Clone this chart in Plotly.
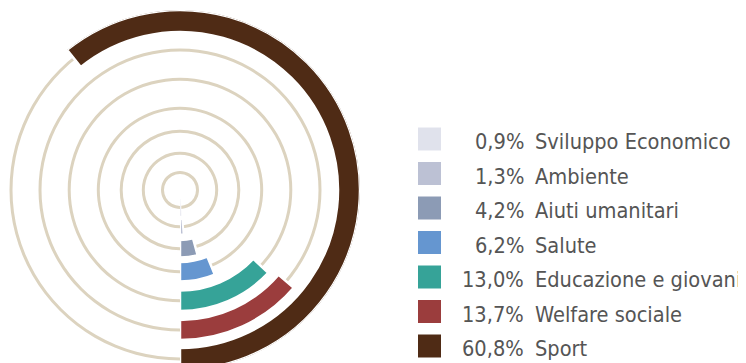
import plotly.graph_objects as go

# dati
categories = ["Sviluppo Economico", "Ambiente", "Aiuti umanitari", "Salute",
              "Educazione e giovani", "Welfare sociale", "Sport"]
shares = [0.9, 1.3, 4.2, 6.2, 13.0, 13.7, 60.8]
colors = ["#e0e2ec", "#bcc1d4", "#8c9bb5", "#6596d0", "#36a398", "#9b3d3d", "#4f2b15"]

# stile degli anelli (raggio in px, spessore barra)
ring_radius = [17.5, 36.7, 58.8, 81.7, 110.8, 140, 169]
bar_thick = [17, 15.5, 17.5, 19.5, 20.5, 20, 22]
outline_w = [0.6, 2, 2.5, 2.5, 2.5, 2.5, 2.5]
track_color = "#dcd3bf"
text_color = "#555555"
FONT = "DejaVu Sans Condensed"
FSIZE = 21.6

# la pagina ha 8px di margine sul body; l'altezza eccede la finestra
# perche' la barra Sport esce in basso
W, H = 738, 372
CX, CY = 172, 182   # centro in px della figura

fig = go.Figure()

# anelli di sfondo
fig.add_trace(go.Barpolar(
    r=[3] * len(ring_radius), base=[rr - 1.5 for rr in ring_radius],
    theta=[180] * len(ring_radius), width=[359.99] * len(ring_radius),
    marker=dict(color=track_color, line=dict(width=0)),
    hoverinfo="skip", showlegend=False, subplot="polar",
))

# barre radiali (settore separato, cosi' il raggio puo' arrivare a 180px)
deg = [v * 3.6 for v in shares]
fig.add_trace(go.Barpolar(
    r=bar_thick, base=[rr - t / 2 for rr, t in zip(ring_radius, bar_thick)],
    theta=[d / 2 for d in deg], width=deg,
    marker=dict(color=colors, line=dict(color="white", width=outline_w)),
    customdata=shares, text=categories,
    hovertemplate="%{text}: %{customdata}%<extra></extra>",
    showlegend=False, subplot="polar2",
))

# legenda
fig.add_trace(go.Scatter(
    x=[11.5] * len(categories), y=categories, mode="markers",
    marker=dict(symbol="square", size=23, color=colors, line=dict(width=0)),
    hoverinfo="skip", showlegend=False,
))
for cat, v in zip(categories, shares):
    pct = f"{v:.1f}".replace(".", ",") + "%"
    fig.add_annotation(x=108, y=cat, xref="x", yref="y", text=pct, showarrow=False,
                       xanchor="right", yshift=-2.5,
                       font=dict(family=FONT, size=FSIZE, color=text_color))
    fig.add_annotation(x=115, y=cat, xref="x", yref="y", text=cat, showarrow=False,
                       xanchor="left", yshift=-2.5,
                       font=dict(family=FONT, size=FSIZE, color=text_color))

angular_off = dict(rotation=270, direction="counterclockwise", visible=False,
                   showgrid=False, showline=False)

R1, R2 = 172, 180
x0_2 = CX - 0.6428 * R2  # bordo sinistro del settore [-90, 130]

fig.update_layout(
    width=W, height=H,
    margin=dict(l=0, r=0, t=0, b=0),
    paper_bgcolor="white", plot_bgcolor="white",
    polar=dict(
        domain=dict(x=[(CX - R1) / W, (CX + R1) / W],
                    y=[(H - CY - R1) / H, (H - CY + R1) / H]),
        bgcolor="white", hole=0, barmode="overlay",
        radialaxis=dict(range=[0, R1], visible=False, showgrid=False),
        angularaxis=angular_off,
    ),
    polar2=dict(
        domain=dict(x=[x0_2 / W, (CX + R2) / W],
                    y=[(H - CY - R2) / H, (H - CY + R2) / H]),
        sector=[-90, 130],
        bgcolor="rgba(0,0,0,0)", hole=0, barmode="overlay",
        radialaxis=dict(range=[0, R2], visible=False, showgrid=False),
        angularaxis=angular_off,
    ),
    xaxis=dict(domain=[410 / W, 1], range=[0, 328], visible=False, fixedrange=True),
    yaxis=dict(type="category", categoryorder="array", categoryarray=categories,
               range=[(H - 131) / 34.5, -131 / 34.5], visible=False, fixedrange=True),
)

fig.write_html("out.html")
